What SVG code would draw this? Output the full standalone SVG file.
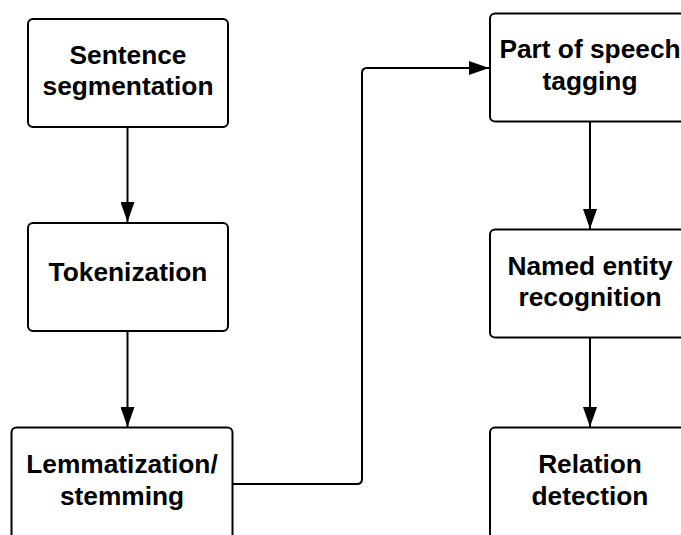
<svg xmlns="http://www.w3.org/2000/svg" width="681" height="535" viewBox="0 0 681 535">
  <defs>
    <marker id="arrow" viewBox="0 0 20 14" refX="20" refY="7" markerWidth="20" markerHeight="14" markerUnits="userSpaceOnUse" orient="auto">
      <path d="M0,0 L20,7 L0,14 Z" fill="#000"/>
    </marker>
  </defs>
  <style>
    .box { fill: #fff; stroke: #000; stroke-width: 2; }
    .label { font-family: "Liberation Sans", Arial, sans-serif; font-weight: bold; font-size: 26.3px; fill: #000; text-anchor: middle; }
    .edge { fill: none; stroke: #000; stroke-width: 2; marker-end: url(#arrow); }
  </style>
  <rect width="681" height="535" fill="#fff"/>

  <g id="connectors">
    <path class="edge" d="M127.5,127 L127.5,222"/>
    <path class="edge" d="M127.5,331 L127.5,427"/>
    <path class="edge" d="M232,484 L357,484 Q362,484 362,479 L362,73 Q362,68 367,68 L489,68"/>
    <path class="edge" d="M590,121 L590,229"/>
    <path class="edge" d="M590,337 L590,427"/>
  </g>

  <g id="sentence-segmentation">
    <rect class="box" x="28" y="19" width="200" height="108" rx="5"/>
    <text class="label" x="128" y="64">Sentence</text>
    <text class="label" x="128" y="95">segmentation</text>
  </g>

  <g id="tokenization">
    <rect class="box" x="28" y="223" width="200" height="108" rx="5"/>
    <text class="label" x="128" y="281">Tokenization</text>
  </g>

  <g id="lemmatization-stemming">
    <rect class="box" x="11.5" y="427.5" width="221" height="120" rx="5"/>
    <text class="label" x="122" y="473">Lemmatization/</text>
    <text class="label" x="122" y="505">stemming</text>
  </g>

  <g id="part-of-speech-tagging">
    <rect class="box" x="490" y="13.5" width="200" height="108" rx="5"/>
    <text class="label" x="590" y="58">Part of speech</text>
    <text class="label" x="590" y="90">tagging</text>
  </g>

  <g id="named-entity-recognition">
    <rect class="box" x="490" y="229.5" width="200" height="108" rx="5"/>
    <text class="label" x="590" y="275">Named entity</text>
    <text class="label" x="590" y="306">recognition</text>
  </g>

  <g id="relation-detection">
    <rect class="box" x="490" y="427.5" width="200" height="120" rx="5"/>
    <text class="label" x="590" y="473">Relation</text>
    <text class="label" x="590" y="505">detection</text>
  </g>
</svg>
